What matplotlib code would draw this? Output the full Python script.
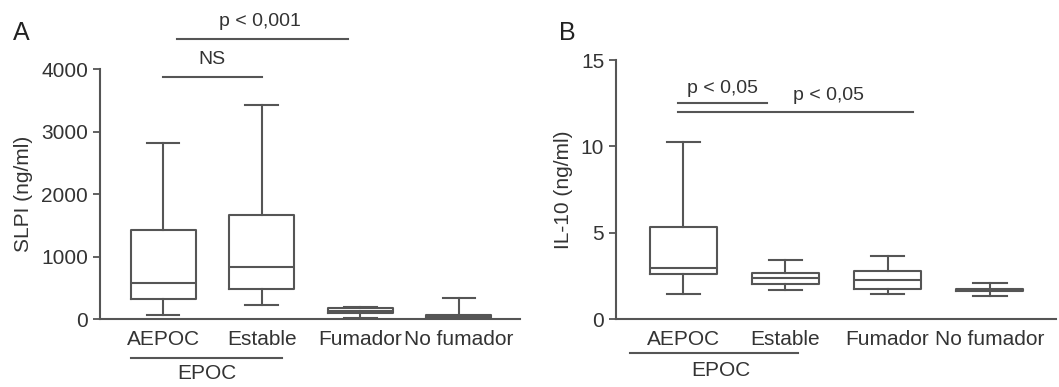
import matplotlib
matplotlib.use("Agg")
import matplotlib.pyplot as plt

plt.rcParams['font.family'] = ['Liberation Sans', 'DejaVu Sans']

groups = ['AEPOC', 'Estable', 'Fumador', 'No fumador']

# panel A: SLPI (ng/ml)
slpi_low = [64, 224, 16, 0]
slpi_q1 = [320, 475, 96, 10]
slpi_med = [571, 837, 125, 30]
slpi_q3 = [1424, 1664, 176, 70]
slpi_high = [2811, 3424, 195, 331]

# panel B: IL-10 (ng/ml)
il10_low = [1.45, 1.68, 1.43, 1.33]
il10_q1 = [2.59, 2.05, 1.76, 1.62]
il10_med = [2.93, 2.36, 2.26, 1.68]
il10_q3 = [5.35, 2.64, 2.78, 1.74]
il10_high = [10.27, 3.42, 3.65, 2.07]

lc = '#555555'
tc = '#333333'


def make_stats(low, q1, med, q3, high):
    return [dict(whislo=a, q1=b, med=c, q3=d, whishi=e, fliers=[])
            for a, b, c, d, e in zip(low, q1, med, q3, high)]


def draw_panel(ax, stats, ylim, yticks, ylabel):
    props = dict(color=lc, linewidth=1.5)
    ax.bxp(stats, positions=range(4), widths=0.66, capwidths=0.33,
           showfliers=False, boxprops=props, whiskerprops=props,
           capprops=props, medianprops=props)
    ax.set_ylim(*ylim)
    ax.set_yticks(yticks)
    ax.set_xticks(range(4))
    ax.set_xticklabels(groups, fontsize=15, color=tc)
    ax.tick_params(axis='x', length=0, pad=8)
    ax.tick_params(axis='y', length=5, width=1.3, color=lc, labelsize=15,
                   labelcolor=tc)
    ax.set_ylabel(ylabel, fontsize=15, color=tc, labelpad=6)
    for s in ['top', 'right']:
        ax.spines[s].set_visible(False)
    for s in ['left', 'bottom']:
        ax.spines[s].set_color(lc)
        ax.spines[s].set_linewidth(1.5)


fig = plt.figure(figsize=(10.59, 3.87), dpi=100)

axA = fig.add_axes([0.0944, 0.1757, 0.3966, 0.646])
draw_panel(axA, make_stats(slpi_low, slpi_q1, slpi_med, slpi_q3, slpi_high),
           (0, 4000), [0, 1000, 2000, 3000, 4000], 'SLPI (ng/ml)')
axA.set_xlim(-0.64, 3.62)
axA.plot([0, 1], [3880, 3880], color=lc, lw=1.5, clip_on=False)
axA.text(0.5, 4020, 'NS', ha='center', va='bottom', fontsize=14, color=tc)
axA.plot([0.14, 1.88], [4480, 4480], color=lc, lw=1.5, clip_on=False)
axA.text(0.98, 4620, 'p < 0,001', ha='center', va='bottom', fontsize=14, color=tc)
axA.plot([-0.33, 1.21], [-620, -620], color=lc, lw=1.5, clip_on=False)
axA.text(0.44, -720, 'EPOC', ha='center', va='top', fontsize=15, color=tc)
fig.text(0.012, 0.915, 'A', fontsize=18, color='#222222', va='center')

axB = fig.add_axes([0.5817, 0.1757, 0.4155, 0.669])
draw_panel(axB, make_stats(il10_low, il10_q1, il10_med, il10_q3, il10_high),
           (0, 15), [0, 5, 10, 15], 'IL-10 (ng/ml)')
axB.set_xlim(-0.66, 3.65)
axB.plot([-0.05, 0.82], [12.5, 12.5], color=lc, lw=1.5)
axB.text(0.38, 12.85, 'p < 0,05', ha='center', va='bottom', fontsize=14, color=tc)
axB.plot([-0.05, 2.25], [12.0, 12.0], color=lc, lw=1.5)
axB.text(1.42, 12.0 + 0.45, 'p < 0,05', ha='center', va='bottom', fontsize=14, color=tc)
axB.plot([-0.52, 1.12], [-1.95, -1.95], color=lc, lw=1.5, clip_on=False)
axB.text(0.37, -2.45, 'EPOC', ha='center', va='top', fontsize=15, color=tc)
fig.text(0.528, 0.915, 'B', fontsize=18, color='#222222', va='center')

fig.savefig('out.png', dpi=100)
